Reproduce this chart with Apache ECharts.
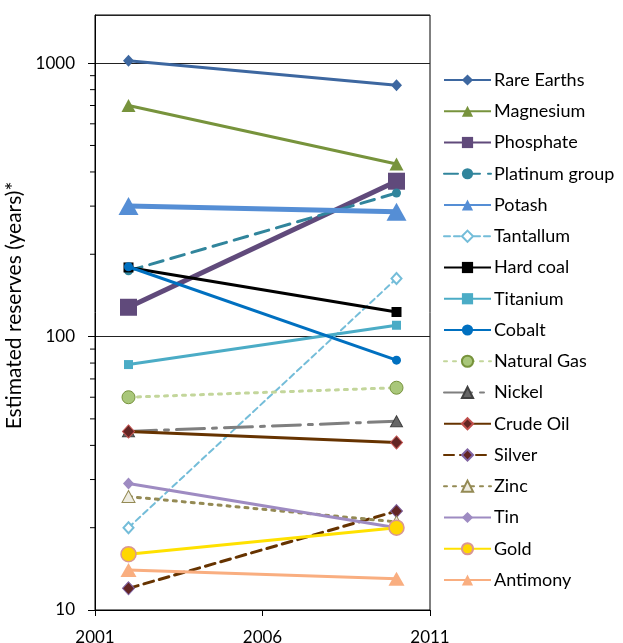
<!DOCTYPE html>
<html><head><meta charset="utf-8">
<script src="https://cdn.jsdelivr.net/npm/echarts@6/dist/echarts.min.js"></script>
<style>html,body{margin:0;padding:0;background:#fff}#c{width:623px;height:643px}</style>
</head><body><div id="c"></div>
<script>
// ---- data ----
var years = [2002, 2010];
var names = ['Rare Earths','Magnesium','Phosphate','Platinum group','Potash','Tantallum','Hard coal','Titanium','Cobalt','Natural Gas','Nickel','Crude Oil','Silver','Zinc','Tin','Gold','Antimony'];
var rareEarths = [1020, 830];
var magnesium = [700, 428];
var phosphate = [128, 370];
var platinumGroup = [174, 335];
var potash = [300, 286];
var tantallum = [20, 163];
var hardCoal = [179, 123];
var titanium = [79, 110];
var cobalt = [180, 82];
var naturalGas = [60, 65];
var nickel = [45, 49];
var crudeOil = [45, 41];
var silver = [12, 23];
var zinc = [26, 21];
var tin = [29, 20];
var gold = [16, 20];
var antimony = [14, 13];
var yTickLabels = [10, 100, 1000];
var xTickLabels = [2001, 2006, 2011];
var minorTickValues = [20,30,40,50,60,70,80,90,200,300,400,500,600,700,800,900];

var values = [rareEarths, magnesium, phosphate, platinumGroup, potash, tantallum, hardCoal, titanium, cobalt, naturalGas, nickel, crudeOil, silver, zinc, tin, gold, antimony];

// ---- styles ----
var styles = [
  {c:'#3D67A0', w:3, sym:'diamond', sz:[11,12]},
  {c:'#77933C', w:3, sym:'triangle', sz:[14,13]},
  {c:'#604A7B', w:5, sym:'rect', sz:17},
  {c:'#31859C', w:3, sym:'circle', sz:9, dash:[14,8]},
  {c:'#558ED5', w:5, sym:'triangle', sz:[20,18]},
  {c:'#74BDD9', w:2, sym:'diamond', sz:[10,11], dash:[6,4], fill:'#fff', bw:2},
  {c:'#000000', w:3, sym:'rect', sz:10},
  {c:'#4BACC6', w:3, sym:'rect', sz:9},
  {c:'#0070C0', w:3, sym:'circle', sz:9},
  {c:'#C3D69B', w:3, sym:'circle', sz:13, dash:[3,6], fill:'#A9C77A', border:'#77933C', bw:1},
  {c:'#7F7F7F', w:3, sym:'triangle', sz:[12,11], dash:[28,8,4,8], fill:'#666666', border:'#404040', bw:1},
  {c:'#663300', w:3, sym:'diamond', sz:[12,13], fill:'#632523', border:'#C0504D', bw:1},
  {c:'#663300', w:3, sym:'diamond', sz:[12,13], dash:[10,6], fill:'#632523', border:'#8064A2', bw:1},
  {c:'#948A54', w:3, sym:'triangle', sz:[13,12], dash:[3,6], fill:'#EEECE1', border:'#948A54', bw:1},
  {c:'#9E8BC2', w:3, sym:'diamond', sz:[11,12]},
  {c:'#FFE100', w:3, sym:'circle', sz:15, fill:'#FFD700', border:'#D99694', bw:1.5},
  {c:'#F9AE80', w:3, sym:'triangle', sz:[16,14]}
];

var series = names.map(function(n, i){
  var s = styles[i];
  return {
    name: n, type: 'line', symbol: s.sym, symbolSize: s.sz,
    data: years.map(function(y, j){ return [y, values[i][j]]; }),
    lineStyle: {color: s.c, width: s.w, type: s.dash || 'solid', cap: s.dash ? 'round' : 'butt'},
    itemStyle: {color: s.fill || s.c, borderColor: s.border || s.c, borderWidth: s.bw || 0, opacity: 1},
    showSymbol: true, animation: false, emphasis: {disabled: true}, z: 2 + i
  };
});

series.push({
  type: 'custom', name: '_minor', silent: true, animation: false,
  data: minorTickValues.map(function(v){ return [2001, v]; }),
  renderItem: function(params, api){
    var p = api.coord([api.value(0), api.value(1)]);
    return {type: 'line', shape: {x1: p[0] - 5, y1: p[1], x2: p[0], y2: p[1]}, style: {stroke: '#000', lineWidth: 1}};
  },
  z: 20
});

var chart = echarts.init(document.getElementById('c'), null, {renderer: 'canvas'});
chart.setOption({
  backgroundColor: '#fff',
  animation: false,
  textStyle: {fontFamily: 'Lato'},
  grid: {left: 95, right: 193, top: 15, bottom: 33, show: true, borderColor: '#000', borderWidth: 1, containLabel: false, outerBoundsMode: 'none'},
  legend: {
    data: names, orient: 'vertical', left: 443, top: 71, padding: 0,
    itemWidth: 47, itemHeight: 14, itemGap: 13.25,
    textStyle: {fontSize: 18, color: '#000', fontFamily: 'Lato', lineHeight: 18, padding: [0,0,0,-2]},
    selectedMode: false
  },
  xAxis: {
    type: 'value', min: 2001, max: 2011, interval: 5,
    axisLine: {show: true, lineStyle: {color: '#000', width: 1}},
    axisTick: {show: true, length: 6, lineStyle: {color: '#000'}},
    axisLabel: {fontSize: 17, color: '#000', margin: 19, fontFamily: 'Lato',
      formatter: function(v){ return xTickLabels.indexOf(v) >= 0 ? String(v) : ''; }},
    splitLine: {show: false}
  },
  yAxis: {
    type: 'log', logBase: 10, min: 10, max: 1500,
    name: 'Estimated reserves (years)*', nameLocation: 'middle', nameGap: 61,
    nameTextStyle: {fontSize: 21, color: '#000', fontFamily: 'Lato', padding: [0, 0, 0, 14]},
    axisLine: {show: true, lineStyle: {color: '#000', width: 1}},
    axisTick: {show: true, length: 7, lineStyle: {color: '#000'}},
    axisLabel: {fontSize: 17, color: '#000', margin: 20, fontFamily: 'Lato', showMaxLabel: false,
      formatter: function(v){ var r = Math.round(v); return yTickLabels.indexOf(r) >= 0 ? String(r) : ''; }},
    splitLine: {show: true, lineStyle: {color: '#222', width: 1}},
    minorTick: {show: false}
  },
  series: series
});
</script></body></html>
